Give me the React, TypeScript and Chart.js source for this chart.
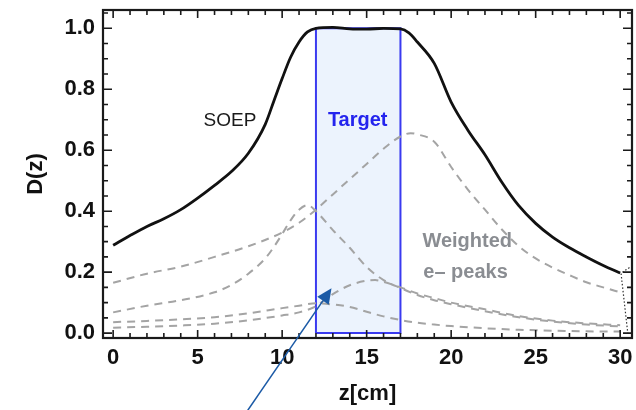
import React, { useEffect, useRef } from 'react';
import { Chart, registerables } from 'chart.js';

Chart.register(...registerables);

const FONT = '"Liberation Sans", Arial, sans-serif';

// ---- tick labels ----
const xTicks = [0, 5, 10, 15, 20, 25, 30];
const yTicks = [0, 0.2, 0.4, 0.6, 0.8, 1.0];

// ---- SOEP curve (solid black) ----
const soepX = [0, 1, 2, 3, 4, 5, 6, 7, 8, 9, 9.5, 10, 10.5, 11, 11.5, 12, 13, 14, 15, 16, 17, 17.5, 18, 19, 20, 21, 22, 23, 24, 25, 26, 27, 28, 29, 30];
const soepY = [0.288, 0.32, 0.35, 0.375, 0.405, 0.443, 0.485, 0.53, 0.59, 0.685, 0.76, 0.835, 0.905, 0.955, 0.988, 1.0, 1.003, 0.998, 0.997, 1.0, 0.998, 0.985, 0.955, 0.885, 0.758, 0.665, 0.585, 0.495, 0.418, 0.36, 0.315, 0.28, 0.25, 0.222, 0.197];

// ---- weighted e- peaks (dashed gray) ----
const peak1X = [0, 2, 4, 6, 8, 10, 11, 12, 13, 14, 15, 16, 17, 17.6, 18, 19, 20, 21, 22, 23, 24, 25, 26, 27, 28, 29, 30];
const peak1Y = [0.165, 0.195, 0.218, 0.25, 0.285, 0.33, 0.362, 0.405, 0.455, 0.505, 0.555, 0.605, 0.645, 0.656, 0.652, 0.628, 0.545, 0.47, 0.405, 0.34, 0.285, 0.245, 0.215, 0.19, 0.167, 0.15, 0.134];

const peak2X = [0, 2, 4, 6, 7, 8, 9, 9.5, 10, 10.5, 11, 11.5, 12, 13, 14, 15, 16, 17, 18, 19, 20, 22, 24, 26, 28, 30];
const peak2Y = [0.068, 0.09, 0.108, 0.134, 0.158, 0.195, 0.245, 0.282, 0.325, 0.37, 0.405, 0.42, 0.4, 0.338, 0.28, 0.217, 0.174, 0.148, 0.125, 0.108, 0.095, 0.072, 0.052, 0.038, 0.028, 0.022];

const peak3X = [0, 2, 4, 6, 8, 10, 11, 12, 12.5, 13, 14, 15, 15.5, 16, 17, 18, 19, 20, 22, 24, 26, 28, 30];
const peak3Y = [0.018, 0.021, 0.025, 0.031, 0.042, 0.058, 0.068, 0.088, 0.108, 0.128, 0.157, 0.172, 0.174, 0.168, 0.15, 0.13, 0.115, 0.1, 0.078, 0.056, 0.041, 0.032, 0.026];

const peak4X = [0, 2, 4, 6, 8, 10, 11, 12, 13, 14, 15, 16, 17, 18, 19, 20, 22, 24, 26, 28, 30];
const peak4Y = [0.036, 0.04, 0.045, 0.052, 0.065, 0.082, 0.09, 0.098, 0.094, 0.086, 0.07, 0.055, 0.043, 0.034, 0.028, 0.023, 0.016, 0.011, 0.008, 0.006, 0.005];

// ---- target region ----
const targetX = [12, 12, 17, 17, 12];
const targetY = [0, 1, 1, 0, 0];
const targetTopX = [12, 17];
const targetTopY = [1, 1];

// ---- dotted end piece ----
const endX = [30.55, 30.05, 30.45];
const endY = [0.215, 0.197, 0.0];

// ---- annotations ----
const labelTexts = ['SOEP', 'Target', 'Weighted', 'e\u2013 peaks'];
const labelX = [6.91, 14.47, 18.3, 18.35];
const labelY = [0.679, 0.679, 0.283, 0.18];

const arrowFrom = [7.88, -0.26];
const arrowTo = [12.92, 0.147];

const pts = (xs: number[], ys: number[]) => xs.map((x, i) => ({ x, y: ys[i] }));

const labelStyles = [
  { color: '#1a1a1a', weight: 'normal', size: 19, align: 'center' },
  { color: '#2424ee', weight: 'bold', size: 20, align: 'center' },
  { color: '#8a8d92', weight: 'bold', size: 20, align: 'left' },
  { color: '#8a8d92', weight: 'bold', size: 20, align: 'left' },
];

const framePlugin = {
  id: 'frame',
  afterDatasetsDraw(chart: any) {
    const { ctx, chartArea: a, scales } = chart;
    const xs = scales.x;
    const ys = scales.y;
    ctx.save();
    ctx.strokeStyle = '#1a1a1a';
    ctx.lineWidth = 1.6;
    ctx.beginPath();
    for (let v = 0; v <= 30; v++) {
      const px = xs.getPixelForValue(v);
      const len = v % 5 === 0 ? 8 : 5;
      ctx.moveTo(px, a.bottom);
      ctx.lineTo(px, a.bottom - len);
      ctx.moveTo(px, a.top);
      ctx.lineTo(px, a.top + len);
    }
    for (let i = 0; i <= 21; i++) {
      const v = i * 0.05;
      const py = ys.getPixelForValue(v);
      const len = i % 4 === 0 ? 9 : 5;
      ctx.moveTo(a.left, py);
      ctx.lineTo(a.left + len, py);
      ctx.moveTo(a.right, py);
      ctx.lineTo(a.right - len, py);
    }
    ctx.stroke();
    ctx.lineWidth = 2.2;
    ctx.strokeRect(a.left, a.top, a.right - a.left, a.bottom - a.top);
    ctx.restore();
  },
  afterDraw(chart: any) {
    const { ctx, scales } = chart;
    const xs = scales.x;
    const ys = scales.y;
    ctx.save();
    labelTexts.forEach((t, i) => {
      const s = labelStyles[i];
      ctx.font = `${s.weight} ${s.size}px ${FONT}`;
      ctx.fillStyle = s.color;
      ctx.textAlign = s.align;
      ctx.textBaseline = 'alphabetic';
      ctx.fillText(t, xs.getPixelForValue(labelX[i]), ys.getPixelForValue(labelY[i]));
    });
    // arrow
    const x0 = xs.getPixelForValue(arrowFrom[0]);
    const y0 = ys.getPixelForValue(arrowFrom[1]);
    const x1 = xs.getPixelForValue(arrowTo[0]);
    const y1 = ys.getPixelForValue(arrowTo[1]);
    const ang = Math.atan2(y1 - y0, x1 - x0);
    const hl = 15;
    const hw = 7;
    const bx = x1 - hl * Math.cos(ang);
    const by = y1 - hl * Math.sin(ang);
    ctx.strokeStyle = '#1b5aa6';
    ctx.fillStyle = '#1b5aa6';
    ctx.lineWidth = 1.5;
    ctx.beginPath();
    ctx.moveTo(x0, y0);
    ctx.lineTo(bx, by);
    ctx.stroke();
    ctx.beginPath();
    ctx.moveTo(x1, y1);
    ctx.lineTo(bx + hw * Math.sin(ang), by - hw * Math.cos(ang));
    ctx.lineTo(bx - hw * Math.sin(ang), by + hw * Math.cos(ang));
    ctx.closePath();
    ctx.fill();
    ctx.restore();
  },
};

const dashed = (xs: number[], ys: number[]) => ({
  data: pts(xs, ys),
  borderColor: '#a4a4a4',
  borderWidth: 2,
  borderDash: [8, 6],
  pointRadius: 0,
  cubicInterpolationMode: 'monotone',
  fill: false,
});

export default function App() {
  const ref = useRef<HTMLCanvasElement | null>(null);
  useEffect(() => {
    if (!ref.current) return;
    Chart.defaults.font.family = FONT;
    const chart = new Chart(ref.current, {
      type: 'line',
      data: {
        datasets: [
          {
            data: pts(soepX, soepY),
            borderColor: '#111111',
            borderWidth: 2.8,
            pointRadius: 0,
            cubicInterpolationMode: 'monotone',
            fill: false,
          },
          {
            data: pts(endX, endY),
            borderColor: '#333333',
            borderWidth: 1.2,
            borderDash: [1.5, 2],
            pointRadius: 0,
            fill: false,
          },
          dashed(peak1X, peak1Y),
          dashed(peak2X, peak2Y),
          dashed(peak3X, peak3Y),
          dashed(peak4X, peak4Y),
          {
            data: pts(targetX, targetY),
            borderColor: '#3a3af0',
            borderWidth: 2,
            pointRadius: 0,
            tension: 0,
            fill: false,
          },
          {
            data: pts(targetTopX, targetTopY),
            borderColor: 'rgba(0,0,0,0)',
            backgroundColor: '#ecf3fd',
            borderWidth: 0,
            pointRadius: 0,
            tension: 0,
            fill: 'origin',
          },
        ] as any,
      },
      options: {
        animation: false,
        responsive: false,
        devicePixelRatio: 1,
        layout: { padding: { left: 0, right: 4, top: 10, bottom: 0 } },
        plugins: { legend: { display: false }, tooltip: { enabled: false } },
        scales: {
          x: {
            type: 'linear',
            min: -0.6,
            max: 30.7,
            grid: { display: false, drawTicks: false },
            border: { display: false },
            afterBuildTicks: (s: any) => {
              s.ticks = xTicks.map((v) => ({ value: v }));
            },
            afterFit: (s: any) => {
              s.height = 72;
              s.paddingLeft = 0;
              s.paddingRight = 0;
            },
            ticks: {
              color: '#111111',
              font: { size: 22, weight: 'bold', family: FONT },
              padding: 7,
              maxRotation: 0,
              callback: (v: any) => String(v),
            },
            title: {
              display: true,
              text: 'z[cm]',
              color: '#111111',
              font: { size: 22, weight: 'bold', family: FONT },
              padding: { top: 0, bottom: 3 },
            },
          },
          y: {
            type: 'linear',
            min: -0.016,
            max: 1.06,
            grid: { display: false, drawTicks: false },
            border: { display: false },
            afterBuildTicks: (s: any) => {
              s.ticks = yTicks.map((v) => ({ value: v }));
            },
            afterFit: (s: any) => {
              s.width = 103;
              s.paddingTop = 0;
              s.paddingBottom = 0;
            },
            ticks: {
              color: '#111111',
              font: { size: 22, weight: 'bold', family: FONT },
              padding: 8,
              callback: (v: any) => Number(v).toFixed(1),
            },
            title: {
              display: true,
              text: 'D(z)',
              color: '#111111',
              font: { size: 22, weight: 'bold', family: FONT },
              padding: { top: 23, bottom: 0 },
            },
          },
        },
      } as any,
      plugins: [framePlugin as any],
    });
    return () => chart.destroy();
  }, []);
  return (
    <div style={{ position: 'absolute', left: 0, top: 0, width: 636, height: 410, background: '#ffffff' }}>
      <canvas ref={ref} width={636} height={410} style={{ width: 636, height: 410, display: 'block' }} />
    </div>
  );
}
